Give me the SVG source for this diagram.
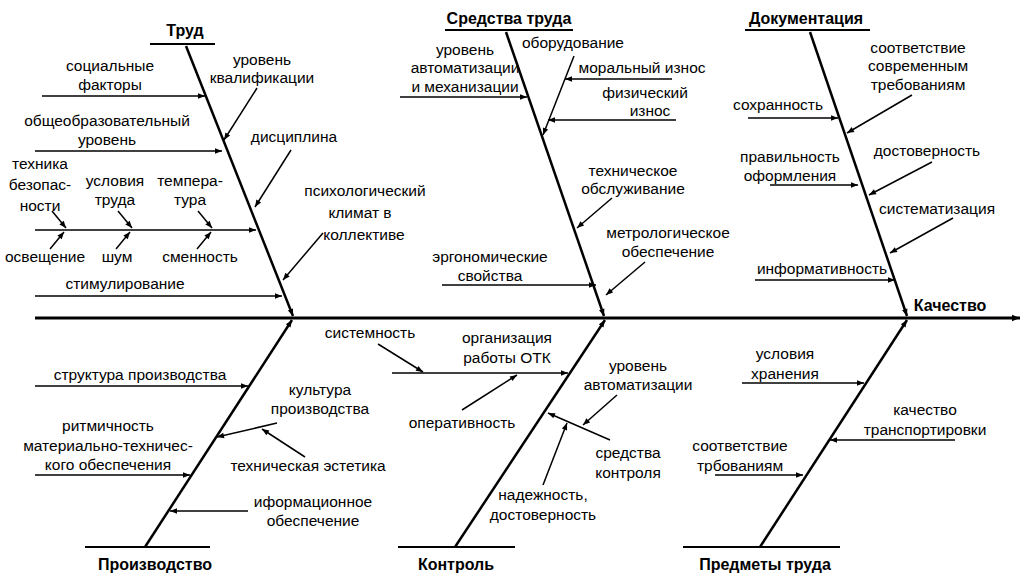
<svg xmlns="http://www.w3.org/2000/svg" width="1031" height="579" viewBox="0 0 1031 579">
<style>
text{font-family:"Liberation Sans",Arial,sans-serif;font-size:15.5px;fill:#000;text-anchor:middle}
.h{font-weight:bold;font-size:16px}
.bone{stroke:#000;stroke-width:2.5;fill:none}
.bar{stroke:#000;stroke-width:2;fill:none}
.a{stroke:#000;stroke-width:1.5;fill:none;marker-end:url(#ah)}
</style>
<defs>
<marker id="ah" viewBox="0 0 10 10" refX="10" refY="5" markerWidth="9" markerHeight="7" markerUnits="userSpaceOnUse" orient="auto"><path d="M0,1 L10,5 L0,9 Z" fill="#000"/></marker>
<marker id="ahb" viewBox="0 0 10 10" refX="10" refY="5" markerWidth="12" markerHeight="8" markerUnits="userSpaceOnUse" orient="auto"><path d="M0,1 L10,5 L0,9 Z" fill="#000"/></marker>
</defs>
<rect width="1031" height="579" fill="#fff"/>
<g id="spine"><line x1="35" y1="318" x2="1020" y2="318" stroke="#000" stroke-width="3" marker-end="url(#ahb)"/><text class="h" x="950" y="311">Качество</text></g>
<g id="trud"><line class="bar" x1="150" y1="44" x2="215" y2="44"/><text class="h" x="185" y="36">Труд</text></g>
<g id="sredstva"><line class="bar" x1="445" y1="30" x2="573" y2="30"/><text class="h" x="509" y="24">Средства труда</text></g>
<g id="doc"><line class="bar" x1="745" y1="30" x2="870" y2="30"/><text class="h" x="806" y="24">Документация</text></g>
<g id="proizv"><line class="bar" x1="85" y1="547" x2="210" y2="547"/><text class="h" x="155" y="570">Производство</text></g>
<g id="kontrol"><line class="bar" x1="398" y1="547" x2="515" y2="547"/><text class="h" x="456" y="570">Контроль</text></g>
<g id="predmety"><line class="bar" x1="683" y1="547" x2="840" y2="547"/><text class="h" x="765" y="570">Предметы труда</text></g>
<g id="labels">
<text x="110" y="71">социальные</text><text x="110" y="90">факторы</text>
<text x="107" y="126">общеобразовательный</text><text x="107" y="145">уровень</text>
<text x="40" y="169">техника</text><text x="40" y="190">безопас-</text><text x="40" y="211">ности</text>
<text x="115" y="186">условия</text><text x="115" y="205">труда</text>
<text x="190" y="186">темпера-</text><text x="190" y="205">тура</text>
<text x="45" y="262">освещение</text><text x="117" y="262">шум</text><text x="200" y="262">сменность</text>
<text x="125" y="289">стимулирование</text>
<text x="262" y="65">уровень</text><text x="262" y="83">квалификации</text>
<text x="294" y="142">дисциплина</text>
<text x="365" y="196">психологический</text><text x="360" y="218">климат в</text><text x="364" y="240">коллективе</text>
<text x="465" y="55">уровень</text><text x="465" y="73">автоматизации</text><text x="465" y="92">и механизации</text>
<text x="573" y="48">оборудование</text>
<text x="642" y="73">моральный износ</text>
<text x="645" y="98">физический</text><text x="650" y="116">износ</text>
<text x="633" y="176">техническое</text><text x="633" y="194">обслуживание</text>
<text x="668" y="238">метрологическое</text><text x="668" y="257">обеспечение</text>
<text x="490" y="262">эргономические</text><text x="490" y="281">свойства</text>
<text x="918" y="53">соответствие</text><text x="918" y="71">современным</text><text x="918" y="90">требованиям</text>
<text x="778" y="110">сохранность</text>
<text x="927" y="156">достоверность</text>
<text x="790" y="162">правильность</text><text x="790" y="181">оформления</text>
<text x="937" y="214">систематизация</text>
<text x="822" y="274">информативность</text>
<text x="140" y="380">структура производства</text>
<text x="320" y="395">культура</text><text x="320" y="414">производства</text>
<text x="108" y="431">ритмичность</text><text x="108" y="451">материально-техничес-</text><text x="108" y="470">кого обеспечения</text>
<text x="308" y="471">техническая эстетика</text>
<text x="313" y="507">иформационное</text><text x="313" y="526">обеспечение</text>
<text x="370" y="338">системность</text>
<text x="507" y="343">организация</text><text x="507" y="363">работы ОТК</text>
<text x="462" y="428">оперативность</text>
<text x="638" y="371">уровень</text><text x="638" y="390">автоматизации</text>
<text x="628" y="458">средства</text><text x="628" y="478">контроля</text>
<text x="543" y="500">надежность,</text><text x="543" y="520">достоверность</text>
<text x="785" y="359">условия</text><text x="785" y="379">хранения</text>
<text x="925" y="415">качество</text><text x="925" y="435">транспортировки</text>
<text x="740" y="451">соответствие</text><text x="740" y="471">трбованиям</text>
</g>
<g id="connectors">
<line class="bone" x1="186" y1="46" x2="293" y2="316" marker-end="url(#ah)"/>
<line class="bone" x1="506" y1="32" x2="604" y2="316" marker-end="url(#ah)"/>
<line class="bone" x1="810" y1="32" x2="907" y2="316" marker-end="url(#ah)"/>
<line class="bone" x1="145" y1="547" x2="292" y2="320" marker-end="url(#ah)"/>
<line class="bone" x1="455" y1="547" x2="605" y2="320" marker-end="url(#ah)"/>
<line class="bone" x1="760" y1="547" x2="907" y2="320" marker-end="url(#ah)"/>
<line class="a" x1="42" y1="96" x2="205" y2="96"/>
<line class="a" x1="35" y1="151" x2="222" y2="151"/>
<line class="a" x1="35" y1="230" x2="256" y2="230"/>
<line class="a" x1="52" y1="211" x2="66" y2="228"/><line class="a" x1="50" y1="249" x2="64" y2="232"/>
<line class="a" x1="118" y1="211" x2="132" y2="228"/><line class="a" x1="116" y1="249" x2="130" y2="232"/>
<line class="a" x1="198" y1="211" x2="212" y2="228"/><line class="a" x1="197" y1="249" x2="211" y2="232"/>
<line class="a" x1="35" y1="296" x2="282" y2="296"/>
<line class="a" x1="257" y1="88" x2="224" y2="140"/>
<line class="a" x1="291" y1="150" x2="255" y2="207"/>
<line class="a" x1="323" y1="233" x2="283" y2="280"/>
<line class="a" x1="400" y1="97" x2="527" y2="97"/>
<line class="a" x1="574" y1="56" x2="543" y2="135"/>
<line class="a" x1="672" y1="79" x2="565" y2="79"/>
<line class="a" x1="676" y1="120" x2="548" y2="120"/>
<line class="a" x1="612" y1="198" x2="577" y2="228"/>
<line class="a" x1="645" y1="262" x2="606" y2="295"/>
<line class="a" x1="442" y1="285" x2="596" y2="285"/>
<line class="a" x1="912" y1="95" x2="847" y2="133"/>
<line class="a" x1="748" y1="118" x2="838" y2="118"/>
<line class="a" x1="932" y1="162" x2="869" y2="195"/>
<line class="a" x1="770" y1="185" x2="858" y2="185"/>
<line class="a" x1="953" y1="218" x2="890" y2="253"/>
<line class="a" x1="755" y1="280" x2="895" y2="280"/>
<line class="a" x1="35" y1="386" x2="248" y2="386"/>
<line class="a" x1="277" y1="423" x2="217" y2="437"/>
<line class="a" x1="305" y1="457" x2="262" y2="429"/>
<line class="a" x1="35" y1="475" x2="190" y2="475"/>
<line class="a" x1="248" y1="511" x2="170" y2="511"/>
<line class="a" x1="378" y1="344" x2="423" y2="372"/>
<line class="a" x1="392" y1="373" x2="568" y2="373"/>
<line class="a" x1="462" y1="410" x2="517" y2="375"/>
<line class="a" x1="617" y1="395" x2="583" y2="425"/>
<line class="a" x1="610" y1="440" x2="548" y2="413"/>
<line class="a" x1="543" y1="485" x2="567" y2="423"/>
<line class="a" x1="742" y1="383" x2="864" y2="383"/>
<line class="a" x1="955" y1="440" x2="830" y2="440"/>
<line class="a" x1="715" y1="475" x2="803" y2="475"/>
</g>
</svg>
